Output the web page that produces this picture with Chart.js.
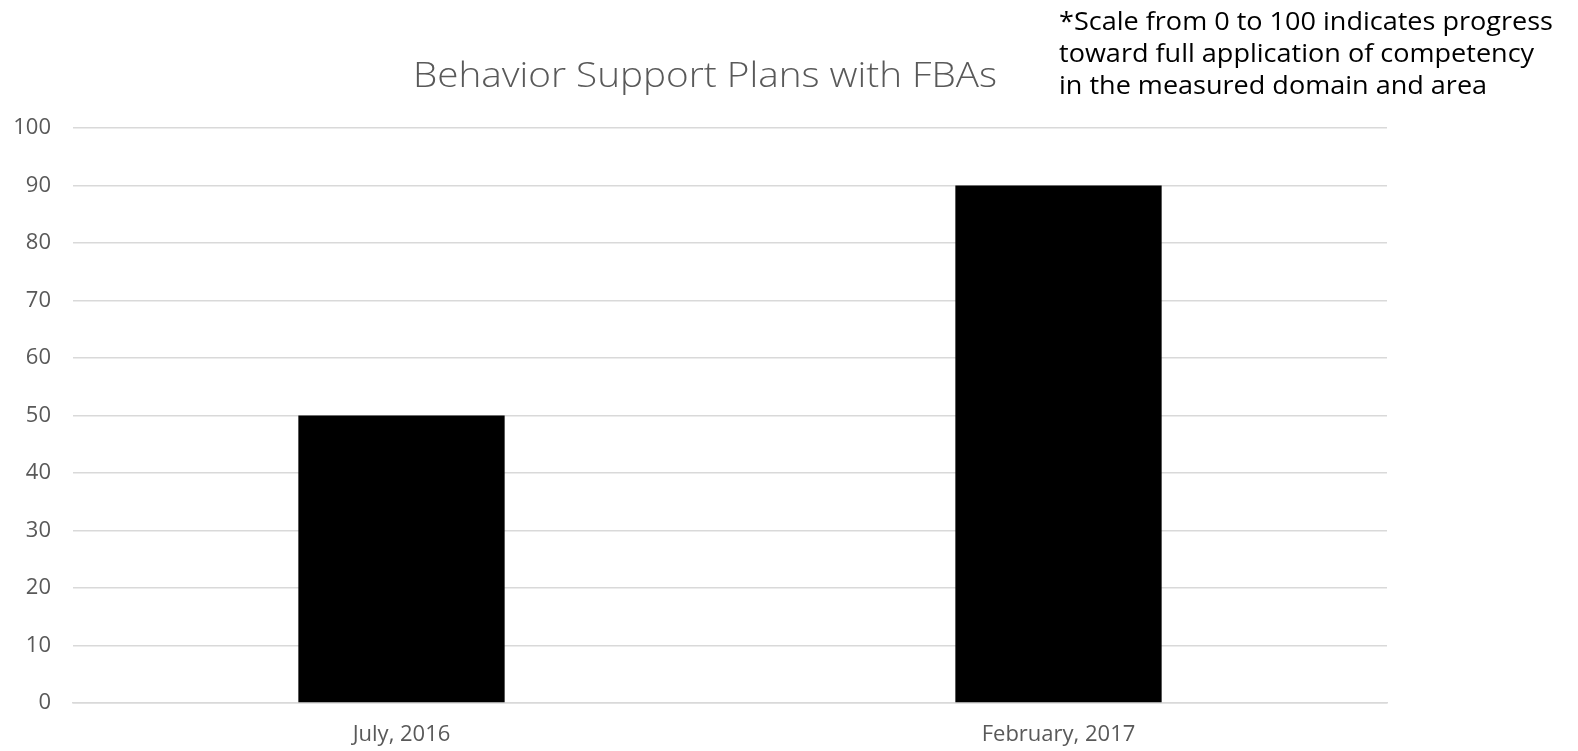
<!DOCTYPE html>
<html>
<head>
<meta charset="utf-8">
<script src="https://cdn.jsdelivr.net/npm/chart.js@4"></script>
<style>
  html, body { margin: 0; padding: 0; background: #ffffff; }
  #wrap { width: 1578px; height: 751px; position: relative; }
</style>
</head>
<body>
<div id="wrap"><canvas id="c" width="1578" height="751"></canvas></div>
<script>
const categories = ["July, 2016", "February, 2017"];
const scores = [50, 90];
const yTicks = [0, 10, 20, 30, 40, 50, 60, 70, 80, 90, 100];
const chartTitle = "Behavior Support Plans with FBAs";
const noteLines = [
  "*Scale from 0 to 100 indicates progress",
  "toward full application of competency",
  "in the measured domain and area"
];

const FONT = "'Open Sans', Lato, 'DejaVu Sans', sans-serif";

// draw text stretched to a target width (to mimic the wide original face)
function fitText(ctx, text, x, y, targetW, align) {
  const w = ctx.measureText(text).width;
  const s = targetW / w;
  ctx.save();
  let ox = x;
  if (align === 'center') ox = x - targetW / 2;
  ctx.translate(ox, y);
  ctx.scale(s, 1);
  ctx.textAlign = 'left';
  ctx.fillText(text, 0, 0);
  ctx.restore();
}

const textPlugin = {
  id: 'texts',
  afterDraw(chart) {
    const ctx = chart.ctx;
    ctx.save();
    ctx.fillStyle = '#595959';
    ctx.font = "300 35px " + FONT;
    ctx.textBaseline = 'middle';
    fitText(ctx, chartTitle, 705, 77, 584, 'center');
    ctx.fillStyle = '#000000';
    ctx.font = "26px " + FONT;
    const w0 = 494;
    const base = ctx.measureText(noteLines[0]).width;
    const s = w0 / base;
    noteLines.forEach((t, i) => {
      const w = ctx.measureText(t).width * s;
      fitText(ctx, t, 1059, 23 + i * 32, w, 'left');
    });
    ctx.restore();
  }
};

new Chart(document.getElementById('c'), {
  type: 'bar',
  data: {
    labels: categories,
    datasets: [{
      data: scores,
      backgroundColor: '#000000',
      borderWidth: 0,
      barPercentage: 0.314,
      categoryPercentage: 1.0
    }]
  },
  options: {
    responsive: false,
    animation: false,
    layout: { padding: { top: 128, right: 191, bottom: 0, left: 0 } },
    plugins: { legend: { display: false }, tooltip: { enabled: false }, title: { display: false } },
    scales: {
      x: {
        grid: { display: false, drawTicks: false },
        border: { display: true, color: '#d9d9d9', width: 1.5 },
        ticks: { color: '#595959', font: { family: FONT, size: 22 }, padding: 19 },
        afterFit(scale) { scale.height = 48; }
      },
      y: {
        min: 0, max: 100,
        afterBuildTicks(scale) { scale.ticks = yTicks.map(v => ({ value: v })); },
        grid: { color: '#d9d9d9', lineWidth: 1.5, drawTicks: false },
        border: { display: false },
        ticks: { color: '#595959', font: { family: FONT, size: 22 }, padding: 22 },
        afterFit(scale) { scale.width = 73; }
      }
    }
  },
  plugins: [textPlugin]
});
</script>
</body>
</html>
